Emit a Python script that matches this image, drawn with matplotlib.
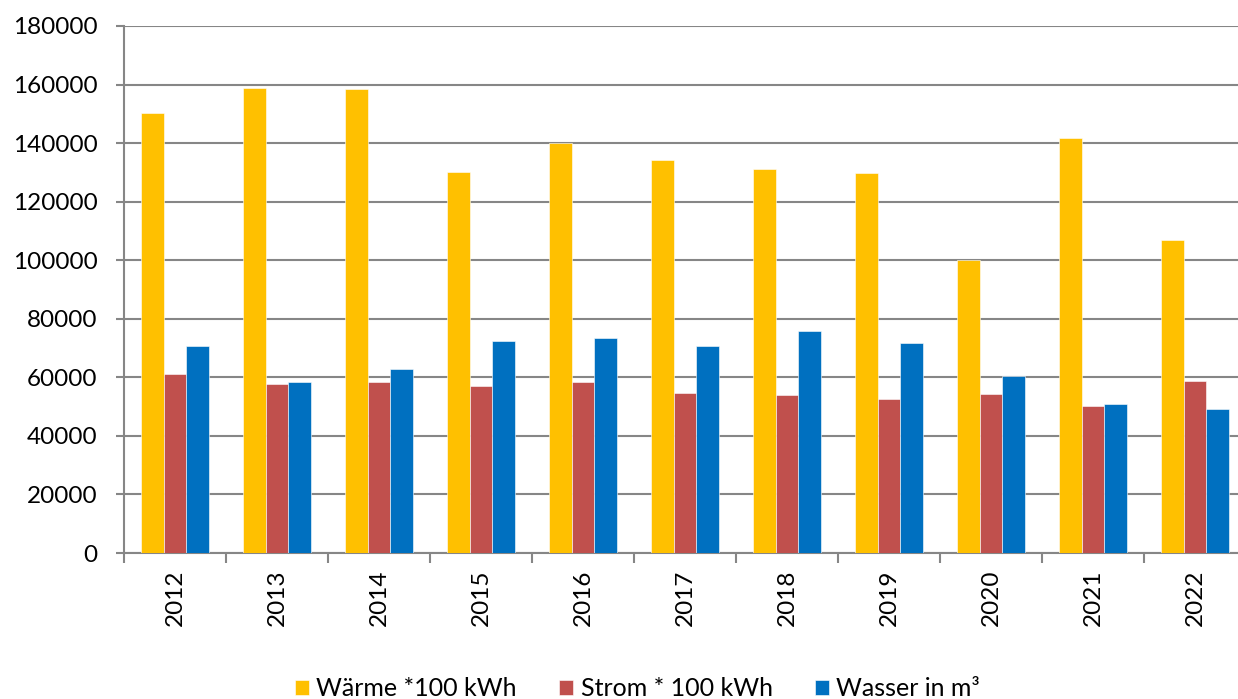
import matplotlib.pyplot as plt
import numpy as np

years = ['2012', '2013', '2014', '2015', '2016', '2017', '2018', '2019', '2020', '2021', '2022']
waerme = [150200, 158800, 158400, 130100, 140000, 134100, 131300, 129700, 100200, 141900, 106900]
strom = [61100, 57800, 58400, 57100, 58400, 54600, 54000, 52500, 54200, 50300, 58700]
wasser = [70800, 58400, 62900, 72300, 73500, 70600, 75800, 71800, 60400, 51000, 49300]
labels = ['Wärme *100 kWh', 'Strom * 100 kWh', 'Wasser in m³']
colors = ['#FFC000', '#C0504D', '#0070C0']

plt.rcParams['font.family'] = ['Lato', 'DejaVu Sans']

fig = plt.figure(figsize=(12.38, 6.99), dpi=100)
ax = fig.add_axes([124/1238, 146/699, 1122/1238, 527/699])

x = np.arange(len(years))
w = 0.222
for k, (vals, lab, c) in enumerate(zip([waerme, strom, wasser], labels, colors)):
    ax.bar(x + (k - 1) * w, vals, width=w, color=c, label=lab, zorder=3,
           edgecolor='white', linewidth=0.4)

ax.set_xlim(-0.5, len(years) - 0.5)
ax.set_ylim(0, 180000)
ax.set_yticks(np.arange(0, 180001, 20000))
ax.yaxis.grid(True, color='#868686', linewidth=1.5, zorder=0)

ax.set_xticks(x)
ax.set_xticklabels(years, rotation=90, fontsize=17.5)
ax.set_xticks(np.arange(-0.5, len(years)), minor=True)
ax.tick_params(axis='x', which='major', length=0, pad=12)
ax.tick_params(axis='x', which='minor', length=7, width=1.5, color='#868686')
ax.tick_params(axis='y', length=6, width=1.5, color='#868686', pad=13, labelsize=17.5)

for s in ['top', 'right']:
    ax.spines[s].set_visible(False)
for s in ['left', 'bottom']:
    ax.spines[s].set_color('#868686')
    ax.spines[s].set_linewidth(1.5)

fig.legend(loc='lower center', bbox_to_anchor=(0.515, -0.034), ncol=3, frameon=False,
           fontsize=18, handlelength=0.55, handleheight=0.55, handletextpad=0.3,
           columnspacing=1.7)

fig.savefig('out.png', dpi=100)
